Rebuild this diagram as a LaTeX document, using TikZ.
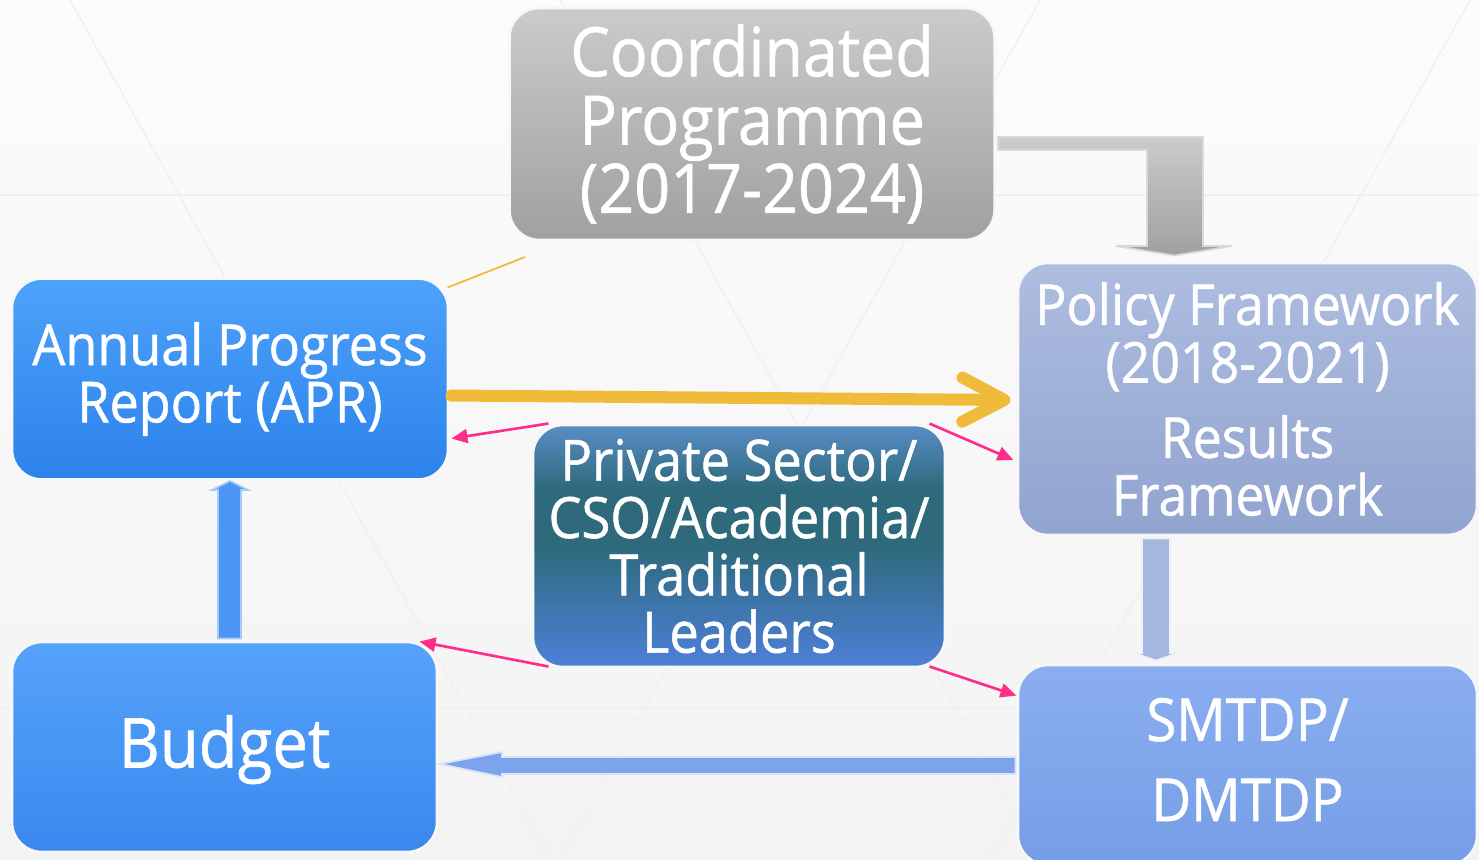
\documentclass[tikz,border=0pt]{standalone}
\usepackage{fontspec}
\setmainfont{Open Sans}[FakeStretch=0.92,FakeBold=0.9]
\usetikzlibrary{arrows.meta,calc}
\definecolor{bgtop}{HTML}{FCFCFC}
\definecolor{bgbot}{HTML}{F3F3F3}
\definecolor{graytop}{HTML}{CBCBCB}
\definecolor{graybot}{HTML}{A0A0A0}
\definecolor{aprtop}{HTML}{4DA2FA}
\definecolor{aprbot}{HTML}{2C82EB}
\definecolor{poltop}{HTML}{AEBDE0}
\definecolor{polbot}{HTML}{91A4CF}
\definecolor{privtop}{HTML}{6A9BE2}
\definecolor{privmid}{HTML}{2E6A7C}
\definecolor{privbot}{HTML}{4E80DA}
\definecolor{budtop}{HTML}{55A3FA}
\definecolor{budbot}{HTML}{3A88EE}
\definecolor{smttop}{HTML}{8AAEF0}
\definecolor{smtbot}{HTML}{769DE6}
\definecolor{yel}{HTML}{F1BB3A}
\definecolor{pinkc}{HTML}{FF2D8A}
\definecolor{upblue}{HTML}{4D95F4}
\definecolor{downblue}{HTML}{A5B6DF}
\definecolor{leftblue}{HTML}{7CA3EC}
\pgfdeclareverticalshading{privsh}{100bp}{color(0bp)=(privbot); color(25bp)=(privbot); color(50bp)=(privmid); color(62bp)=(privmid); color(80bp)=(privtop); color(100bp)=(privtop)}
\tikzset{
  box/.style={rounded corners=0.3cm, draw=white!70!black!10, line width=0.8pt, text=white, align=center, inner sep=0pt},
  pinkarr/.style={draw=pinkc, line width=0.75pt, -{Triangle[length=0.16cm,width=0.14cm]}},
  blockarr/.style={line width=0.5pt, line join=miter},
}
\begin{document}
\begin{tikzpicture}[x=0.01cm,y=-0.01cm]
\useasboundingbox (0,0) rectangle (1479,859);
\shade[top color=bgtop, bottom color=bgbot] (0,0) rectangle (1479,859);
% faint background lines
\begin{scope}[draw=black!6, line width=0.4pt]
\draw (0,195) -- (1479,195);
\draw (0,708) -- (1479,708);
\draw (560,0) -- (1040,859);
\draw (1040,0) -- (560,859);
\draw (70,0) -- (550,859);
\draw (1470,0) -- (990,859);
\end{scope}

% boxes
\node[box, top color=graytop, bottom color=graybot, minimum width=4.85cm, minimum height=2.32cm,
  font=\fontsize{19.4pt}{19.4pt}\selectfont] (coord) at (752,124) {Coordinated\\Programme\\(2017-2024)};
\node[box, top color=aprtop, bottom color=aprbot, minimum width=4.36cm, minimum height=2.01cm,
  font=\fontsize{16.1pt}{16.3pt}\selectfont] (apr) at (230,379) {Annual Progress\\Report (APR)};
\node[box, top color=poltop, bottom color=polbot, minimum width=4.59cm, minimum height=2.72cm,
  font=\fontsize{16pt}{16.4pt}\selectfont] (policy) at (1247.5,399) {Policy Framework\\(2018-2021)\\[5pt]Results\\Framework};
\node[box, top color=privtop, shading=privsh, minimum width=4.12cm, minimum height=2.42cm,
  font=\fontsize{16.2pt}{16.3pt}\selectfont] (priv) at (739,546) {Private Sector/\\CSO/Academia/\\Traditional\\Leaders};
\node[box, top color=budtop, bottom color=budbot, minimum width=4.25cm, minimum height=2.10cm,
  font=\fontsize{19.6pt}{20pt}\selectfont] (budget) at (224.5,747) {\raisebox{0.02cm}[0.55cm][0.1cm]{Budget}};
\node[box, top color=smttop, bottom color=smtbot, minimum width=4.59cm, minimum height=2.00cm,
  font=\fontsize{16.9pt}{22.8pt}\selectfont] (smtdp) at (1247.5,765) {\raisebox{0.05cm}{\begin{tabular}{@{}c@{}}SMTDP/\\DMTDP\end{tabular}}};

% gray elbow block arrow
\fill[blockarr, top color=graytop, bottom color=graybot, draw=white!85!black]
  ($(coord.east)+(2,13)$) -- (1203,137) -- (1203,246) -- (1232,246) -- ($(policy.north)+(-73,-6)$)
  -- (1116,246) -- (1147,246) -- (1147,150) -- ($(coord.east)+(2,26)$) -- cycle;

% blue up arrow
\fill[blockarr, fill=upblue, draw=upblue!50!white]
  ($(budget.north)+(-6.5,-2)$) -- (218,490) -- (212,490) -- ($(apr.south)+(0,0)$) -- (248,490) -- (241,490) -- ($(budget.north)+(16.5,-2)$) -- cycle;

% down arrow
\fill[blockarr, fill=downblue, draw=white!80!downblue]
  ($(policy.south)+(-105.5,2)$) -- ($(policy.south)+(-77.5,2)$) -- (1170,653) -- (1178,653) -- ($(smtdp.north)+(-91.5,-3)$) -- (1134,653) -- (1142,653) -- cycle;

% left arrow
\fill[blockarr, fill=leftblue, draw=white!70!leftblue]
  ($(smtdp.west)+(-1,-8)$) -- (502,757) -- (502,752) -- ($(budget.east)+(1,17)$) -- (502,777) -- (502,774) -- ($(smtdp.west)+(-1,9)$) -- cycle;

% yellow arrow
\draw[yel, line width=0.12cm, line cap=round, -{Straight Barb[length=0.42cm,width=0.44cm,round]}]
  ($(apr.east)+(2,16.5)$) -- ($(policy.west)+(-6,1)$);

% thin orange line
\coordinate (oe) at (525,257);
\draw[yel, line width=0.5pt] ($(apr.north east)+(-2,10.5)$) -- (oe);

% pink arrows
\draw[pinkarr] ($(priv.north west)+(17,0)$) -- ($(apr.east)+(2,59.5)$);
\draw[pinkarr] ($(priv.north east)+(-17,0)$) -- ($(policy.west)+(-3,61)$);
\draw[pinkarr] ($(priv.south west)+(17,-2)$) -- ($(budget.north east)+(-19,1)$);
\draw[pinkarr] ($(priv.south east)+(-17,-2)$) -- ($(smtdp.north west)+(0,32)$);
\end{tikzpicture}
\end{document}
